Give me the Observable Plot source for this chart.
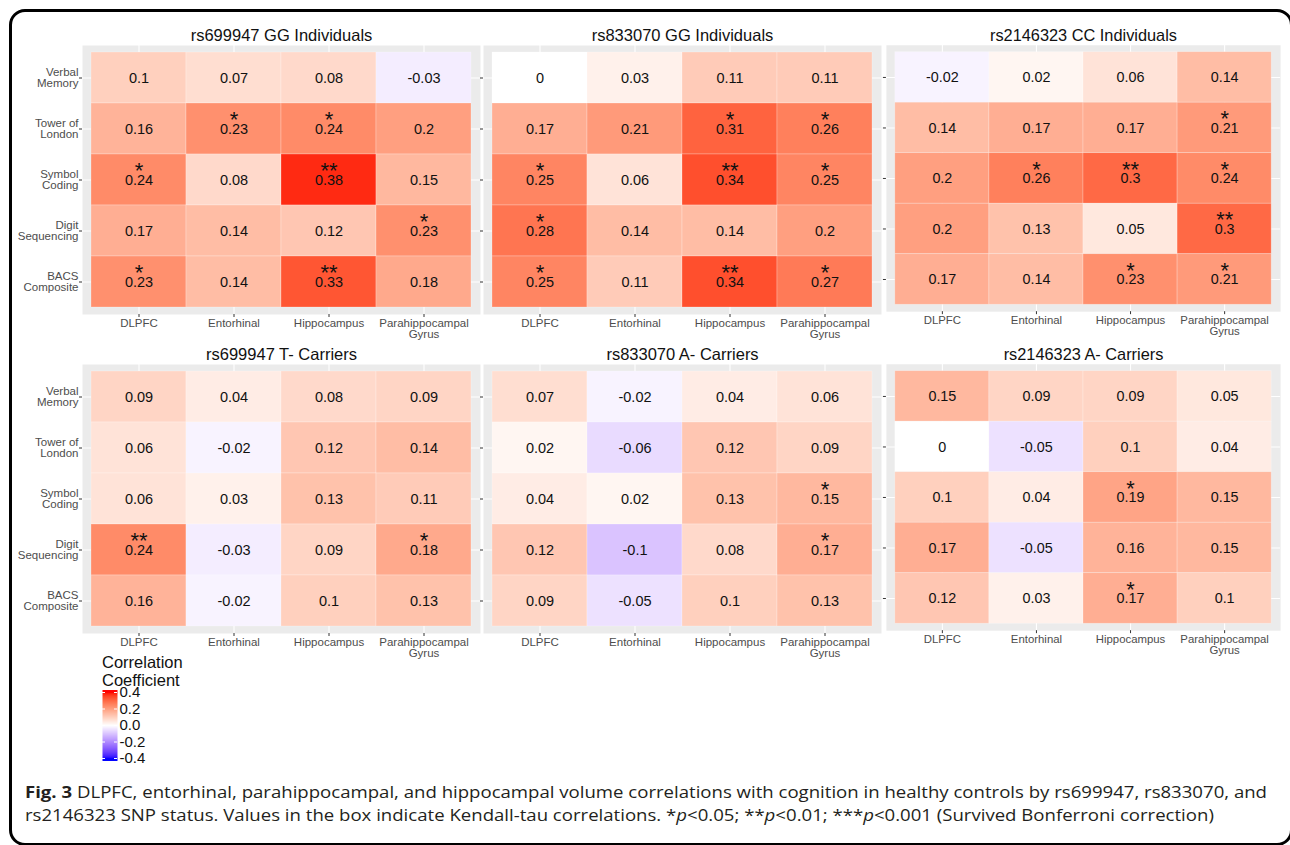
<!DOCTYPE html>
<html>
<head>
<meta charset="utf-8">
<script src="https://cdn.jsdelivr.net/npm/d3@7"></script>
<script src="https://cdn.jsdelivr.net/npm/@observablehq/plot@0.6"></script>
<style>
  html, body { margin: 0; padding: 0; background: #fff; }
  body { width: 1290px; height: 845px; overflow: hidden; position: relative; font-family: "Liberation Sans", Arial, sans-serif; }
  #border { position: absolute; left: 9px; top: 9px; width: 1278px; height: 831px; border: 3px solid #000; border-radius: 16px; }
  .pos { position: absolute; }
  .pos svg { overflow: visible; }
  #legtitle { left: 102px; top: 653px; font-size: 16.5px; line-height: 18px; color: #111; }
  #caption { left: 25px; top: 781px; font-family: "Open Sans", sans-serif; font-size: 15.5px; line-height: 23px; color: #231F20; white-space: nowrap; transform-origin: 0 0; }
  #caption b { font-weight: 700; }
</style>
</head>
<body>
<div id="border"></div>
<div id="root"></div>
<div id="legtitle" class="pos">Correlation<br>Coefficient</div>
<div id="legend" class="pos" style="left:95px;top:684px"></div>
<div id="caption" class="pos"><span id="cap1"><b>Fig. 3</b> DLPFC, entorhinal, parahippocampal, and hippocampal volume correlations with cognition in healthy controls by rs699947, rs833070, and</span><br><span id="cap2">rs2146323 SNP status. Values in the box indicate Kendall-tau correlations. *<i>p</i>&lt;0.05; **<i>p</i>&lt;0.01; ***<i>p</i>&lt;0.001 (Survived Bonferroni correction)</span></div>
<script>
// ---------- data ----------
const regions = ["DLPFC", "Entorhinal", "Hippocampus", "Parahippocampal Gyrus"];
const regionLabels = ["DLPFC", "Entorhinal", "Hippocampus", "Parahippocampal\nGyrus"];
const tasks = ["Verbal Memory", "Tower of London", "Symbol Coding", "Digit Sequencing", "BACS Composite"];
const taskLabels = ["Verbal\nMemory", "Tower of\nLondon", "Symbol\nCoding", "Digit\nSequencing", "BACS\nComposite"];

const panelTitles = [
  "rs699947 GG Individuals", "rs833070 GG Individuals", "rs2146323 CC Individuals",
  "rs699947 T- Carriers", "rs833070 A- Carriers", "rs2146323 A- Carriers"
];

// rows = tasks, columns = regions
const rs699947_GG = [
  [0.1, 0.07, 0.08, -0.03],
  [0.16, 0.23, 0.24, 0.2],
  [0.24, 0.08, 0.38, 0.15],
  [0.17, 0.14, 0.12, 0.23],
  [0.23, 0.14, 0.33, 0.18]
];
const rs699947_GG_sig = [
  ["", "", "", ""],
  ["", "*", "*", ""],
  ["*", "", "**", ""],
  ["", "", "", "*"],
  ["*", "", "**", ""]
];
const rs833070_GG = [
  [0, 0.03, 0.11, 0.11],
  [0.17, 0.21, 0.31, 0.26],
  [0.25, 0.06, 0.34, 0.25],
  [0.28, 0.14, 0.14, 0.2],
  [0.25, 0.11, 0.34, 0.27]
];
const rs833070_GG_sig = [
  ["", "", "", ""],
  ["", "", "*", "*"],
  ["*", "", "**", "*"],
  ["*", "", "", ""],
  ["*", "", "**", "*"]
];
const rs2146323_CC = [
  [-0.02, 0.02, 0.06, 0.14],
  [0.14, 0.17, 0.17, 0.21],
  [0.2, 0.26, 0.3, 0.24],
  [0.2, 0.13, 0.05, 0.3],
  [0.17, 0.14, 0.23, 0.21]
];
const rs2146323_CC_sig = [
  ["", "", "", ""],
  ["", "", "", "*"],
  ["", "*", "**", "*"],
  ["", "", "", "**"],
  ["", "", "*", "*"]
];
const rs699947_T = [
  [0.09, 0.04, 0.08, 0.09],
  [0.06, -0.02, 0.12, 0.14],
  [0.06, 0.03, 0.13, 0.11],
  [0.24, -0.03, 0.09, 0.18],
  [0.16, -0.02, 0.1, 0.13]
];
const rs699947_T_sig = [
  ["", "", "", ""],
  ["", "", "", ""],
  ["", "", "", ""],
  ["**", "", "", "*"],
  ["", "", "", ""]
];
const rs833070_A = [
  [0.07, -0.02, 0.04, 0.06],
  [0.02, -0.06, 0.12, 0.09],
  [0.04, 0.02, 0.13, 0.15],
  [0.12, -0.1, 0.08, 0.17],
  [0.09, -0.05, 0.1, 0.13]
];
const rs833070_A_sig = [
  ["", "", "", ""],
  ["", "", "", ""],
  ["", "", "", "*"],
  ["", "", "", "*"],
  ["", "", "", ""]
];
const rs2146323_A = [
  [0.15, 0.09, 0.09, 0.05],
  [0, -0.05, 0.1, 0.04],
  [0.1, 0.04, 0.19, 0.15],
  [0.17, -0.05, 0.16, 0.15],
  [0.12, 0.03, 0.17, 0.1]
];
const rs2146323_A_sig = [
  ["", "", "", ""],
  ["", "", "", ""],
  ["", "", "*", ""],
  ["", "", "", ""],
  ["", "", "*", ""]
];

const legendTicks = [-0.4, -0.2, 0, 0.2, 0.4];
const legendLabels = ["-0.4", "-0.2", "0.0", "0.2", "0.4"];

// ---------- drawing ----------
const colorScale = {
  type: "linear", domain: [-0.4, 0, 0.4], range: ["blue", "white", "red"],
  interpolate: d3.interpolateLab, clamp: true
};
const svgStyle = { fontFamily: "'Liberation Sans', Arial, sans-serif", fontSize: "11.5px", background: "transparent", overflow: "visible" };

function toRows(vals, sig) {
  return tasks.flatMap((t, i) => regions.map((r, j) => ({ task: t, region: r, value: vals[i][j], sig: sig[i][j] })));
}

function panel(idx, vals, sig, left, top, showY) {
  const ml = showY ? 82 : 10;
  const data = toRows(vals, sig);
  const chart = Plot.plot({
    width: ml + 398 + 10, height: 25 + 269 + 32,
    marginLeft: ml, marginRight: 10, marginTop: 25, marginBottom: 32,
    style: svgStyle,
    x: { domain: regions, inset: 8, padding: 0, label: null },
    y: { domain: tasks, inset: 5, padding: 0, label: null },
    color: colorScale,
    marks: [
      Plot.frame({ fill: "#EBEBEB", stroke: null }),
      Plot.gridX({ stroke: "white", strokeOpacity: 1, strokeWidth: 1.1 }),
      Plot.gridY({ stroke: "white", strokeOpacity: 1, strokeWidth: 1.1 }),
      Plot.cell(data, { x: "region", y: "task", fill: "value", inset: 0, stroke: "white", strokeOpacity: 0.35, strokeWidth: 0.7 }),
      Plot.text(data, { x: "region", y: "task", text: d => String(d.value), fontSize: 14.5, fill: "#111" }),
      Plot.text(data.filter(d => d.sig), { x: "region", y: "task", text: "sig", fontSize: 22, dy: -9, fill: "#111" }),
      Plot.axisX({ tickSize: 3, tickPadding: 1, fontSize: 11.5, fill: "#4D4D4D", stroke: "#333", label: null,
        tickFormat: d => regionLabels[regions.indexOf(d)] }),
      Plot.axisY({ tickSize: 3, tickPadding: 1, fontSize: 11.5, fill: "#4D4D4D", stroke: "#333", label: null,
        tickFormat: showY ? (d => taskLabels[tasks.indexOf(d)]) : (() => "") }),
      Plot.text([panelTitles[idx]], { frameAnchor: "top", lineAnchor: "middle", dy: -10, fontSize: 16.5, fill: "#111" })
    ]
  });
  const div = document.createElement("div");
  div.className = "pos";
  div.style.left = left + "px";
  div.style.top = top + "px";
  div.appendChild(chart);
  document.getElementById("root").appendChild(div);
}

panel(0, rs699947_GG, rs699947_GG_sig, 0, 20, true);
panel(1, rs833070_GG, rs833070_GG_sig, 473, 20, false);
panel(2, rs2146323_CC, rs2146323_CC_sig, 876, 20, false);
panel(3, rs699947_T, rs699947_T_sig, 0, 339, true);
panel(4, rs833070_A, rs833070_A_sig, 473, 339, false);
panel(5, rs2146323_A, rs2146323_A_sig, 876, 339, false);

// legend colour bar
const legend = Plot.plot({
  width: 64, height: 82, marginLeft: 7, marginRight: 42, marginTop: 5, marginBottom: 5,
  style: { ...svgStyle, fontSize: "15px" },
  x: { domain: [0, 1], axis: null },
  y: { domain: [-0.4, 0.4], inset: 3, axis: null },
  color: colorScale,
  marks: [
    Plot.raster({ fill: (x, y) => y, x1: 0, x2: 1, y1: -0.43, y2: 0.43, width: 2, height: 120, imageRendering: "auto" }),
    Plot.ruleY(legendTicks, { y: d => d, x1: 0, x2: 0.2, stroke: "white", strokeWidth: 1 }),
    Plot.ruleY(legendTicks, { y: d => d, x1: 0.8, x2: 1, stroke: "white", strokeWidth: 1 }),
    Plot.axisY(legendTicks, { anchor: "right", tickSize: 0, tickPadding: 2, fontSize: 15, fill: "#111", label: null,
      tickFormat: d => legendLabels[legendTicks.indexOf(d)] })
  ]
});
document.getElementById("legend").appendChild(legend);

// stretch caption horizontally to the reference's line length
const cap = document.getElementById("caption");
const w1 = document.getElementById("cap1").getBoundingClientRect().width;
if (w1 > 0) cap.style.transform = `scaleX(${1242 / w1})`;
</script>
</body>
</html>
